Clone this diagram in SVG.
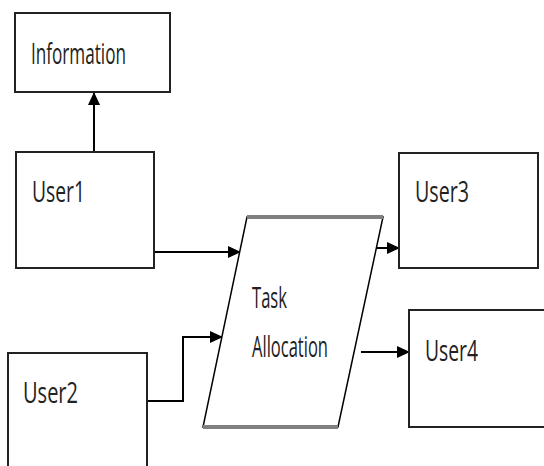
<svg xmlns="http://www.w3.org/2000/svg" width="544" height="466" viewBox="0 0 544 466">
<defs>
<marker id="ah" markerWidth="13" markerHeight="12" refX="12" refY="6" orient="auto" markerUnits="userSpaceOnUse">
<path d="M0,0 L13,6 L0,12 Z" fill="#000"/>
</marker>
<style>
.box{fill:#fff;stroke:#222;stroke-width:2}
.lbl{font-family:"Open Sans","Liberation Sans",sans-serif;font-size:29px;fill:#222}
.con{fill:none;stroke:#000;stroke-width:2}
</style>
</defs>
<rect width="544" height="466" fill="#fff"/>
<g id="connectors">
<path class="con" d="M94,152 V93" marker-end="url(#ah)"/>
<path class="con" d="M154,252 H240" marker-end="url(#ah)"/>
<path class="con" d="M147,401 H183 V337 H222" marker-end="url(#ah)"/>
<path class="con" d="M372,248 H399" marker-end="url(#ah)"/>
<path class="con" d="M361,352 H409" stroke="#444" stroke-width="3" marker-end="url(#ah)"/>
</g>
<g id="information">
<rect class="box" x="15" y="13" width="155" height="79"/>
<text class="lbl" x="31" y="64" textLength="95" lengthAdjust="spacingAndGlyphs" fill="#3a1f35">Information</text>
</g>
<g id="user1">
<rect class="box" x="16" y="152" width="138" height="116"/>
<text class="lbl" x="32" y="202" textLength="53" lengthAdjust="spacingAndGlyphs">User1</text>
</g>
<g id="user2">
<rect class="box" x="8" y="353" width="139" height="130"/>
<text class="lbl" x="23" y="403" textLength="55" lengthAdjust="spacingAndGlyphs">User2</text>
</g>
<g id="task">
<path d="M247,217 L383,217 L338,427 L203,427 Z" fill="#fff" stroke="#000" stroke-width="1.5"/>
<path d="M247,217 H383 M203,427 H338" stroke="#808080" stroke-width="4"/>
<text class="lbl" x="252" y="308" textLength="35" lengthAdjust="spacingAndGlyphs">Task</text>
<text class="lbl" x="252" y="357" textLength="76" lengthAdjust="spacingAndGlyphs">Allocation</text>
</g>
<g id="user3">
<rect class="box" x="399" y="153" width="139" height="115"/>
<text class="lbl" x="415" y="202" textLength="54" lengthAdjust="spacingAndGlyphs">User3</text>
</g>
<g id="user4">
<rect class="box" x="409" y="310" width="145" height="117"/>
<text class="lbl" x="425" y="361" textLength="53" lengthAdjust="spacingAndGlyphs">User4</text>
</g>
</svg>
